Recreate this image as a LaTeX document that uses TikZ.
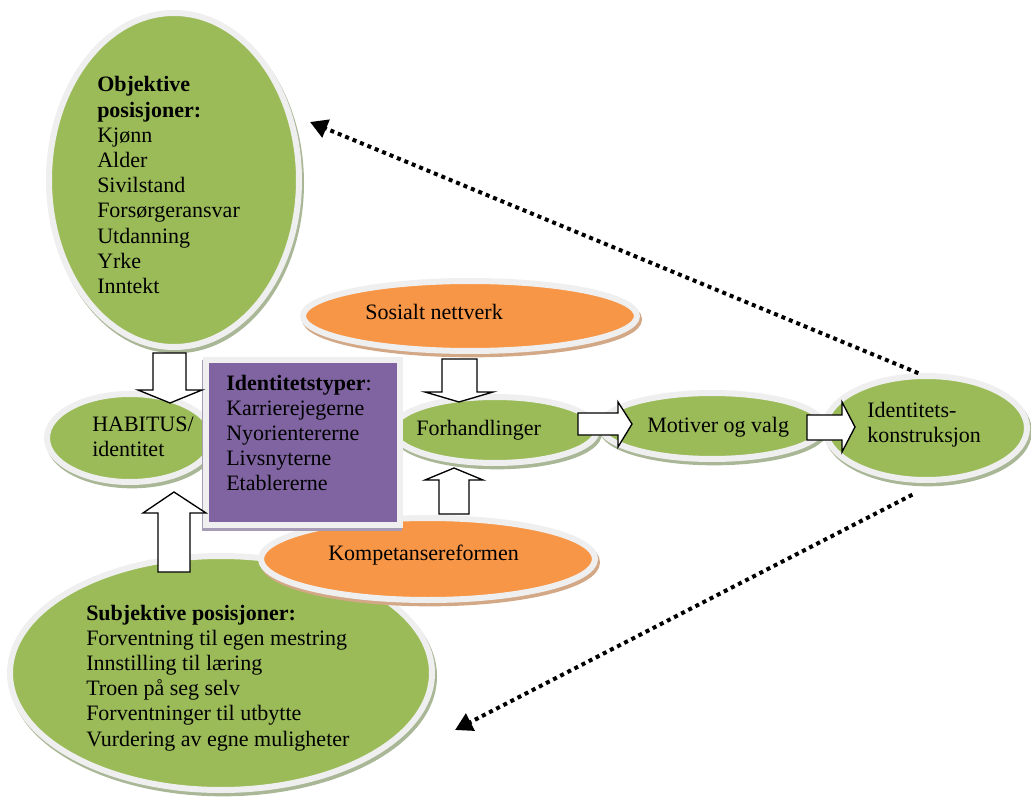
\documentclass[tikz,border=0pt]{standalone}
\usepackage{fontspec}
\setmainfont{Liberation Serif}
\usetikzlibrary{shapes.geometric,shadows,arrows.meta}
\definecolor{grn}{HTML}{9BBB59}
\definecolor{org}{HTML}{F79646}
\definecolor{prp}{HTML}{8064A2}
\definecolor{ringc}{HTML}{EFEFEF}
\definecolor{gshad}{HTML}{A9B796}
\definecolor{oshad}{HTML}{D3A886}
\definecolor{pshad}{HTML}{A69CB5}
\newcommand{\tl}[1]{\begin{tabular}[t]{@{}l@{}}#1\end{tabular}}
\begin{document}
\begin{tikzpicture}[x=0.75pt,y=-0.75pt,
 bub/.style={ellipse, draw=ringc, line width=4.5pt, inner sep=0pt},
 gb/.style={bub, fill=grn, general shadow={fill=gshad, draw=gshad, line width=4.5pt, shadow xshift=1.5pt, shadow yshift=-2.5pt}},
 ob/.style={bub, fill=org, general shadow={fill=oshad, draw=oshad, line width=4.5pt, shadow xshift=1.5pt, shadow yshift=-2.5pt}},
 txt/.style={inner sep=0pt, anchor=base west, font=\fontsize{16.5pt}{18.9pt}\selectfont},
 blk/.style={draw=black, fill=white, line width=1pt, line join=miter},
 dotarrow/.style={line width=3pt, dash pattern=on 3pt off 3pt, -{Triangle[length=13pt,width=14pt]}}
]
\useasboundingbox (0,0) rectangle (1031,798);
% ellipses
\node[gb, minimum width=250*0.75pt, minimum height=334*0.75pt] (obj) at (174,180) {};
\node[gb, minimum width=166*0.75pt, minimum height=88*0.75pt] (hab) at (130,438) {};
\node[ob, minimum width=334*0.75pt, minimum height=70*0.75pt] (sos) at (470,316) {};
\node[gb, minimum width=223*0.75pt, minimum height=66*0.75pt] (mot) at (712,426) {};
\node[gb, minimum width=204*0.75pt, minimum height=66*0.75pt] (for) at (495,430) {};
\node[gb, minimum width=202*0.75pt, minimum height=104*0.75pt] (ident) at (926,428) {};
\node[gb, minimum width=422*0.75pt, minimum height=234*0.75pt] (sub) at (221,673) {};
\node[ob, minimum width=334*0.75pt, minimum height=82*0.75pt] (komp) at (428,559) {};
% purple box
\node[rectangle, fill=prp, draw=ringc, line width=4.5pt, inner sep=0pt,
      minimum width=194*0.75pt, minimum height=165*0.75pt,
      general shadow={fill=pshad, draw=pshad, line width=4.5pt, shadow xshift=-0.5pt, shadow yshift=-2.5pt}] (types) at (303,442.5) {};
% texts
\node[txt] (objtxt) at (97,92) {\tl{\textbf{Objektive}\\\textbf{posisjoner:}\\Kjønn\\Alder\\Sivilstand\\Forsørgeransvar\\Utdanning\\Yrke\\Inntekt}};
\node[txt] (habtxt) at (92,431) {\tl{HABITUS/\\identitet}};
\node[txt] (typtxt) at (226,390) {\tl{\textbf{Identitetstyper}:\\Karrierejegerne\\Nyorientererne\\Livsnyterne\\Etablererne}};
\node[txt] (sostxt) at (365,320) {Sosialt nettverk};
\node[txt] (fortxt) at (416,435) {Forhandlinger};
\node[txt] (mottxt) at (647,432) {Motiver og valg};
\node[txt] (idtxt) at (867,417) {\tl{Identitets-\\konstruksjon}};
\node[txt] (komptxt) at (328,560) {Kompetansereformen};
\node[txt] (subtxt) at (86,620) {\tl{\textbf{Subjektive posisjoner:}\\Forventning til egen mestring\\Innstilling til læring\\Troen på seg selv\\Forventninger til utbytte\\Vurdering av egne muligheter}};
% block arrows
\draw[blk] (153,353) -- (186,353) -- (186,390) -- (202,390) -- (170,403) -- (138,390) -- (153,390) -- cycle;
\draw[blk] (158,572) -- (190,572) -- (190,513) -- (206,513) -- (174,492) -- (143,513) -- (158,513) -- cycle;
\draw[blk] (442,359) -- (477,359) -- (477,392) -- (493,392) -- (459,402) -- (425,392) -- (442,392) -- cycle;
\draw[blk] (439,514) -- (469,514) -- (469,480) -- (483,480) -- (454,468) -- (425,480) -- (439,480) -- cycle;
\draw[blk] (578,413) -- (618,413) -- (618,402) -- (632,424) -- (618,447) -- (618,435) -- (578,435) -- cycle;
\draw[blk] (807,415) -- (842,415) -- (842,402) -- (855,427) -- (842,452) -- (842,440) -- (807,440) -- cycle;
% dotted arrows
\coordinate (objend) at (310,122);
\coordinate (subend) at (455,730);
\draw[dotarrow] (ident.98) -- (objend);
\draw[dotarrow] ([shift={(-2,12)}]ident.258) -- (subend);
\end{tikzpicture}
\end{document}
